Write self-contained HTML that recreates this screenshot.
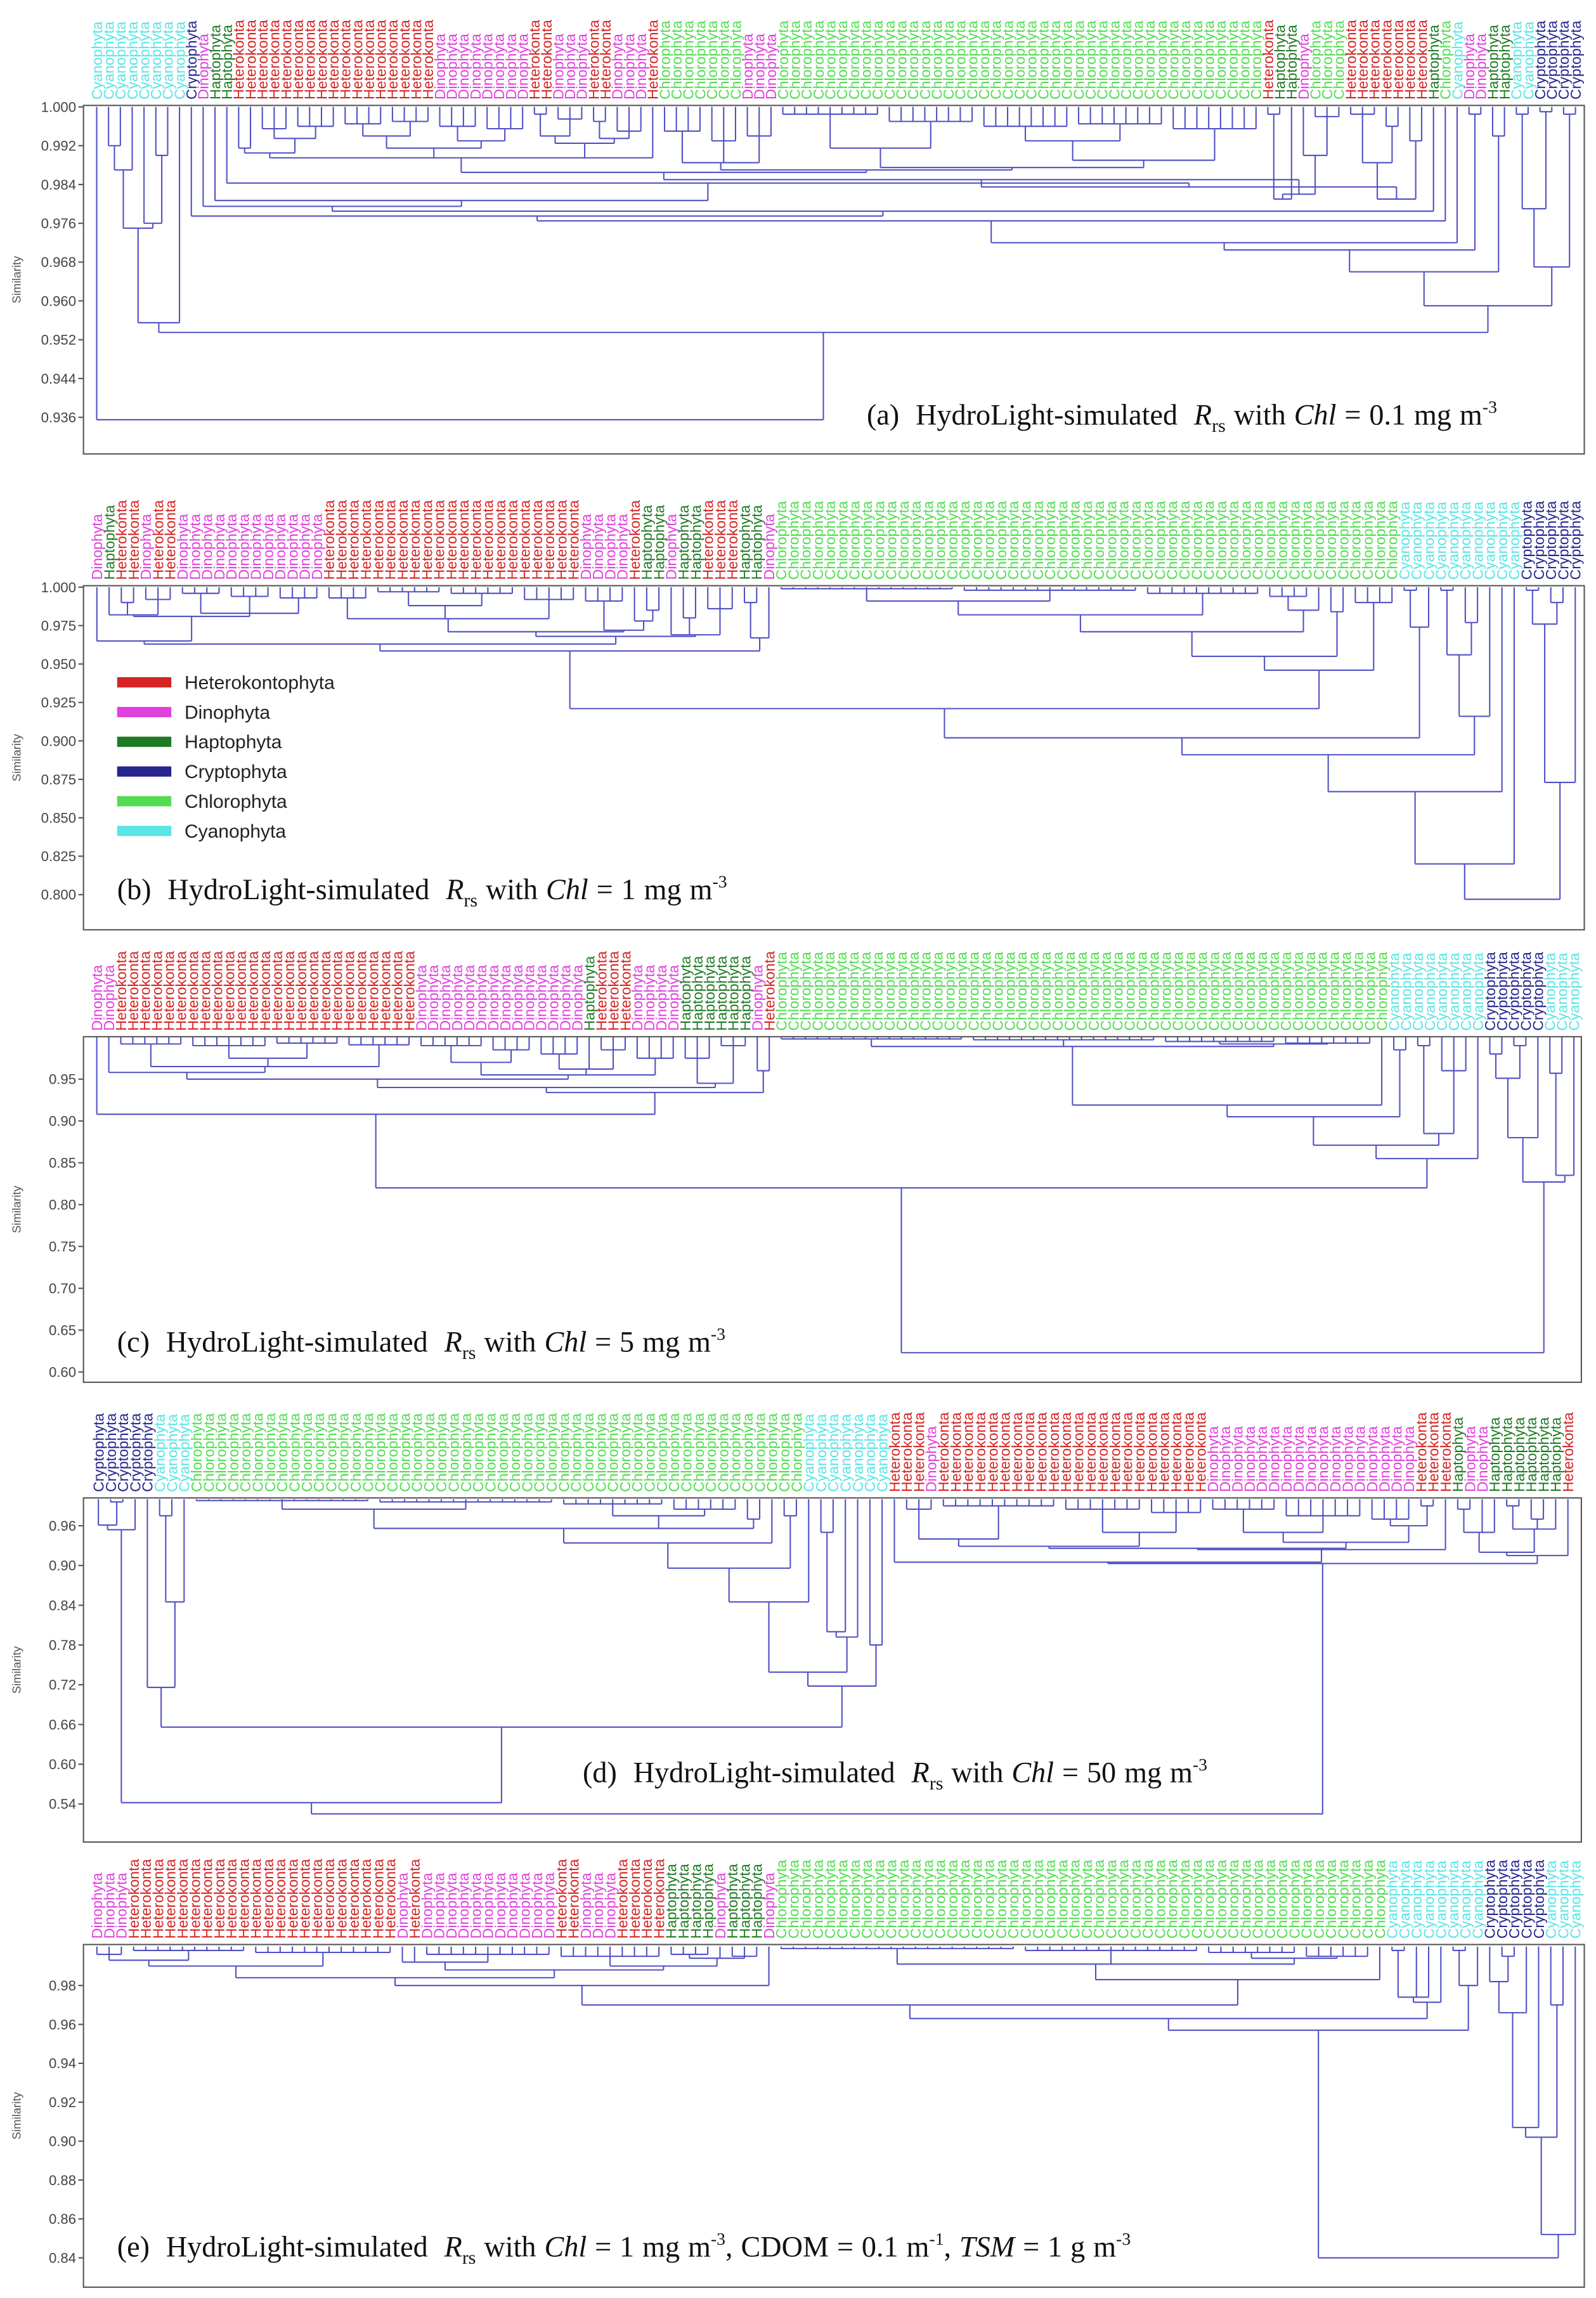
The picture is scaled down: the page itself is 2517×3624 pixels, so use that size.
<!DOCTYPE html>
<html><head><meta charset="utf-8"><title>Dendrograms</title>
<style>
html,body{margin:0;padding:0;background:#fff;}
svg{display:block;}
</style></head>
<body>
<svg id="fig" xmlns="http://www.w3.org/2000/svg" width="2517" height="3624" viewBox="0 0 1090 1569.4">
<rect x="0" y="0" width="1090" height="1569.4" fill="#fff"/>
<g id="root"></g>
</svg>
<script>
const catNames = {H:'Heterokonta',D:'Dinophyta',G:'Haptophyta',B:'Cryptophyta',C:'Chlorophyta',Y:'Cyanophyta'};
const catColors = {H:'#d42424',D:'#e040dc',G:'#1f7a24',B:'#26268e',C:'#52dc52',Y:'#5ae4e4'};

// ---------- panel (a) ----------
const runsA = [['Y',8],['B',1],['D',1],['G',2],['H',17],['D',8],['H',2],['D',3],['H',2],['D',3],['H',1],['C',7],['D',3],['C',41],['H',1],['G',2],['D',1],['C',3],['H',7],['G',1],['C',1],['Y',1],['D',2],['G',2],['Y',2],['B',4]];
const ticksA = ['1.000','0.992','0.984','0.976','0.968','0.960','0.952','0.944','0.936'];
const a_HD = [0.9895,
 [0.9905,[0.9915,12,13],[0.9935,['r',14,16,0.9955],['r',17,20,0.996]]],
 [0.9915,[0.994,['r',21,24,0.9965],['r',25,28,0.997]],[0.993,['r',29,32,0.996],['r',33,36,0.9955]]],
 [0.9925,[0.994,[0.9985,37,38],['r',39,41,0.9975]],[0.9935,[0.997,42,43],['r',44,46,0.995]]],
 47];
const a_CD = [0.9885,['r',48,51,0.995],['r',52,54,0.993],['r',55,57,0.994]];
const a_CC = [0.9875,[0.9915,['r',58,66,0.9985],['r',67,74,0.997]],[0.989,[0.993,['r',75,82,0.996],['r',83,90,0.9965]],['r',91,98,0.9955]]];
const a_X1 = [0.981,[0.9985,99,100],101];
const a_H106 = [0.981,[0.9885,['r',106,108,0.9985],[0.996,109,110]],[0.993,111,112]];
const a_M3 = [0.9835,[0.985,[0.9865,a_HD,[0.987,a_CD,a_CC]],[0.982,a_X1,[0.990,102,['r',103,105,0.998]]]],a_H106];
const treeA = [0.9355,0,[0.9535,
 [0.9555,[0.975,[0.987,[0.992,1,2],3],[0.976,4,[0.990,5,6]]],7],
 [0.959,
  [0.966,[0.9705,[0.972,[0.9765,[0.9775,8,[0.9785,[0.9795,9,[0.9807,10,[0.9843,11,a_M3]]],113]],114],115],[0.9985,116,117]],[0.994,118,119]],
  [0.967,[0.979,[0.9985,120,121],[0.999,122,123]],[0.9985,124,125]]]]];

// ---------- panel (b) ----------
const runsB = [['D',1],['G',1],['H',2],['D',1],['H',2],['D',12],['H',21],['D',4],['H',1],['G',2],['D',1],['G',2],['H',3],['G',2],['D',1],['C',51],['Y',10],['B',5]];
const ticksB = ['1.000','0.975','0.950','0.925','0.900','0.875','0.850','0.825','0.800'];
const b_L1 = [0.981,[0.982,1,[0.99,2,3],[0.992,4,5,6]],[0.983,['r',7,10,0.996],['r',11,14,0.994],['r',15,18,0.993]]];
const b_A = [0.965,0,b_L1];
const b_HB = [0.9795,['r',19,22,0.993],[0.988,['r',23,28,0.997],['r',29,34,0.996]],['r',35,39,0.992]];
const b_DB = [0.972,['r',40,43,0.991],[0.978,44,[0.985,45,46]]];
const b_B2 = [0.968,[0.971,b_HB,b_DB],[0.969,47,[0.98,48,49],['r',50,52,0.986]]];
const b_Left = [0.9585,[0.963,b_A,b_B2],[0.967,[0.99,53,54],55]];
const b_C = [0.946,[0.955,[0.971,[0.982,[0.991,['r',56,70,0.999],['r',71,85,0.998]],['r',86,95,0.996]],[0.985,['r',96,99,0.994],100]],[0.984,101,102]],['r',103,106,0.99]];
const b_Y1 = [0.974,[0.998,107,108],109];
const b_Y3 = [0.916,[0.956,[0.998,110,111],[0.977,112,113]],114];
const b_B = [0.873,[0.976,[0.998,117,118],[0.99,119,120]],121];
const treeB = [0.797,[0.82,[0.867,[0.891,[0.902,[0.921,b_Left,b_C],b_Y1],b_Y3],115],116],b_B];

// ---------- panel (c) ----------
const runsC = [['D',2],['H',25],['D',14],['G',1],['H',3],['D',4],['G',6],['D',1],['H',1],['C',51],['Y',8],['B',5],['Y',3]];
const ticksC = ['0.95','0.90','0.85','0.80','0.75','0.70','0.65','0.60'];
const c_HB = [0.965,['r',2,7,0.992],[0.975,['r',8,14,0.99],['r',15,20,0.993]],['r',21,26,0.991]];
const c_DB = [0.955,[0.97,['r',27,32,0.99],['r',33,36,0.985]],[0.962,['r',37,40,0.98],41,['r',42,44,0.985]],['r',45,48,0.975]];
const c_GB = [0.945,['r',49,51,0.975],['r',52,54,0.99]];
const c_Left = [0.908,0,[0.934,[0.94,[0.95,[0.958,1,c_HB],c_DB],c_GB],[0.96,55,56]]];
const c_C = [0.989,['r',57,72,0.998],['r',73,88,0.997],[0.992,['r',89,98,0.995],['r',99,106,0.993]]];
const c_R = [0.855,[0.871,[0.905,[0.919,c_C,107],[0.985,108,109]],[0.885,[0.99,110,111],['r',112,114,0.96]]],115];
const c_BY = [0.827,[0.88,[0.951,[0.98,116,117],[0.99,118,119]],120],[0.835,[0.957,121,122],123]];
const treeC = [0.623,[0.82,c_Left,c_R],c_BY];

// ---------- panel (d) ----------
const runsD = [['B',5],['Y',3],['C',50],['Y',7],['H',3],['D',1],['H',22],['D',17],['H',3],['G',1],['D',2],['G',6],['H',1]];
const ticksD = ['0.96','0.90','0.84','0.78','0.72','0.66','0.60','0.54'];
const d_Bn = [0.954,[0.961,0,[0.996,1,2]],3];
const d_Cd = [0.956,[0.985,['r',8,22,0.998],['r',23,37,0.996]],[0.975,['r',38,46,0.993],['r',47,52,0.985]],[0.97,53,54]];
const d_C3 = [0.845,[0.896,[0.934,d_Cd,55],[0.975,56,57]],58];
const d_C5 = [0.718,[0.739,d_C3,[0.792,[0.80,[0.95,59,60],61],62]],[0.78,63,64]];
const d_Left = [0.542,d_Bn,[0.656,[0.716,4,[0.845,[0.975,5,6],7]],d_C5]];
const d_HD1 = [0.929,[0.94,['r',66,68,0.985],['r',69,78,0.99]],[0.95,['r',79,85,0.985],['r',86,90,0.98]]];
const d_Dn = [0.935,[0.95,['r',91,96,0.985],['r',97,103,0.975]],[0.96,['r',104,107,0.97],[0.99,108,109]]];
const d_G = [0.92,[0.95,[0.985,111,112],113,114],[0.955,[0.99,115,116],[0.97,117,118],119]];
const d_Right = [0.903,[0.905,65,[0.924,[0.926,d_HD1,d_Dn],110]],[0.915,d_G,120]];
const treeD = [0.525,d_Left,d_Right];

// ---------- panel (e) ----------
const runsE = [['D',3],['H',22],['D',1],['H',1],['D',11],['H',2],['D',3],['H',4],['G',4],['D',1],['G',3],['D',1],['C',50],['Y',8],['B',5],['Y',3]];
const ticksE = ['0.98','0.96','0.94','0.92','0.90','0.88','0.86','0.84'];
const e_L = [0.984,[0.99,[0.993,['r',0,2,0.996],['r',3,12,0.998]],['r',13,24,0.997]],[0.988,[0.992,25,26,['r',27,37,0.996]],[0.99,['r',38,46,0.995],[0.994,['r',47,50,0.996],51,['r',52,54,0.995]]]]];
const e_Cc = [0.991,['r',56,75,0.999],['r',76,90,0.998],[0.994,['r',91,98,0.997],['r',99,104,0.995]]];
const e_M = [0.957,[0.963,[0.970,[0.980,e_L,55],[0.983,e_Cc,105]],[0.9714,[0.974,[0.998,106,107],108,109],110]],[0.98,[0.998,111,112],113]];
const e_R = [0.852,[0.902,[0.907,[0.966,[0.982,114,[0.995,115,116]],117],118],[0.970,119,120]],121];
const treeE = [0.840,e_M,e_R];

const panels = [
 {id:'a',runs:runsA,tree:treeA,ticks:ticksA,box:[57,72,1082,310],y1:73,k:3312.5,lx0:62,lx1:1080,lblBase:68},
 {id:'b',runs:runsB,tree:treeB,ticks:ticksB,box:[57,400,1082,635],y1:401,k:1050,lx0:62,lx1:1080,lblBase:396},
 {id:'c',runs:runsC,tree:treeC,ticks:ticksC,box:[57,708,1080,944],y1:708.4,k:571.4,lx0:62,lx1:1079,lblBase:704},
 {id:'d',runs:runsD,tree:treeD,ticks:ticksD,box:[57,1023,1080,1258],y1:1023.9,k:452.4,lx0:63,lx1:1075,lblBase:1019},
 {id:'e',runs:runsE,tree:treeE,ticks:ticksE,box:[57,1328,1082,1562],y1:1329.4,k:1328.6,lx0:62,lx1:1080,lblBase:1324}
];

const NS='http://www.w3.org/2000/svg';
const root=document.getElementById('root');
function mk(tag,attrs,parent){const e=document.createElementNS(NS,tag);for(const k in attrs)e.setAttribute(k,attrs[k]);(parent||root).appendChild(e);return e;}

const LINE='#5050c4';

panels.forEach(P=>{
  const g=mk('g',{});
  
  
  const leaves=[];
  P.runs.forEach(r=>{for(let i=0;i<r[1];i++)leaves.push(r[0]);});
  const N=leaves.length;
  const w=(P.lx1-P.lx0)/N;
  const xOf=i=>P.lx0+(i+0.5)*w;
  const yOf=s=>P.y1+(1-s)*P.k;

  const fr=mk('rect',{x:P.box[0],y:P.box[1],width:P.box[2]-P.box[0],height:P.box[3]-P.box[1],fill:'none',stroke:'#555',"stroke-width":0.9},g);
  
  

  const lg=mk('g',{},g);
  
  
  leaves.forEach((c,i)=>{
    const x=xOf(i)+3.6, y=P.lblBase;
    const t=mk('text',{x:x,y:y,transform:'rotate(-90 '+x+' '+y+')','font-family':'Liberation Sans, Arial, sans-serif','font-size':10,fill:catColors[c]},lg);
    t.textContent=catNames[c];
    
    
  });

  const tg=mk('g',{},g);
  
  
  P.ticks.forEach(lbl=>{
    const y=yOf(parseFloat(lbl));
    const tl=mk('line',{x1:P.box[0]-3.5,x2:P.box[0],y1:y,y2:y,stroke:'#555','stroke-width':0.9},tg);
    
    
    const tt=mk('text',{x:P.box[0]-5,y:y+3.4,'text-anchor':'end','font-family':'Liberation Sans, Arial, sans-serif','font-size':9.6,fill:'#444'},tg);
    tt.textContent=lbl;
    
    
  });
  const cy=(P.box[1]+P.box[3])/2;
  const yt=mk('text',{x:14,y:cy,transform:'rotate(-90 14 '+cy+')','text-anchor':'middle','font-family':'Liberation Sans, Arial, sans-serif','font-size':8,fill:'#555'},tg);
  yt.textContent='Similarity';
  
  

  const dg=mk('g',{stroke:LINE,'stroke-width':0.9,fill:'none'},g);
  
  
  function seg(x1,y1,x2,y2){
    const l=mk('line',{x1:x1,y1:y1,x2:x2,y2:y2},dg);
    
    
  }
  function lay(node){
    if(typeof node==='number') return {x:xOf(node),s:1};
    let h,kids;
    if(node[0]==='r'){h=node[3];kids=[];for(let i=node[1];i<=node[2];i++)kids.push(i);}
    else{h=node[0];kids=node.slice(1);}
    const pos=kids.map(lay);
    const yh=yOf(h);
    let mn=Infinity,mx=-Infinity;
    pos.forEach(p=>{seg(p.x,yOf(p.s),p.x,yh);mn=Math.min(mn,p.x);mx=Math.max(mx,p.x);});
    seg(mn,yh,mx,yh);
    return {x:(mn+mx)/2,s:h};
  }
  lay(P.tree);
});

function caption(id,x,y,chl,extra){
  const t=mk('text',{x:x,y:y,'font-family':'Liberation Serif, Times New Roman, serif','font-size':20,fill:'#111','word-spacing':0.6});
  
  
  const parts=[
    ['('+id+')\u00a0 HydroLight-simulated\u00a0 ',{}],
    ['R',{'font-style':'italic'}],
    ['rs',{'font-size':13,dy:5}],
    [' with ',{dy:-5}],
    ['Chl',{'font-style':'italic'}],
    [' = '+chl+' mg m',{}],
    ['-3',{'font-size':12,dy:-8}]
  ];
  if(extra){
    parts.push([', CDOM = 0.1 m',{dy:8}]);
    parts.push(['-1',{'font-size':12,dy:-8}]);
    parts.push([', ',{dy:8}]);
    parts.push(['TSM',{'font-style':'italic'}]);
    parts.push([' = 1 g m',{}]);
    parts.push(['-3',{'font-size':12,dy:-8}]);
  }
  parts.forEach(p=>{const s=mk('tspan',p[1],t);s.textContent=p[0];});
}
caption('a',592,290,'0.1',false);
caption('b',80,614,'1',false);
caption('c',80,923,'5',false);
caption('d',398,1217,'50',false);
caption('e',80,1541,'1',true);

const legendCats=['H','D','G','B','C','Y'];
const lg=mk('g',{});


legendCats.forEach((c,i)=>{
  const y=466+i*20.3;
  const r=mk('rect',{x:80,y:y-3.5,width:37,height:7,fill:catColors[c]},lg);
  
  
  const t=mk('text',{x:126,y:y+4.5,'font-family':'Liberation Sans, Arial, sans-serif','font-size':13,fill:'#222'},lg);
  t.textContent=c==='H'?'Heterokontophyta':catNames[c];
  
  
});
</script>
</body></html>
